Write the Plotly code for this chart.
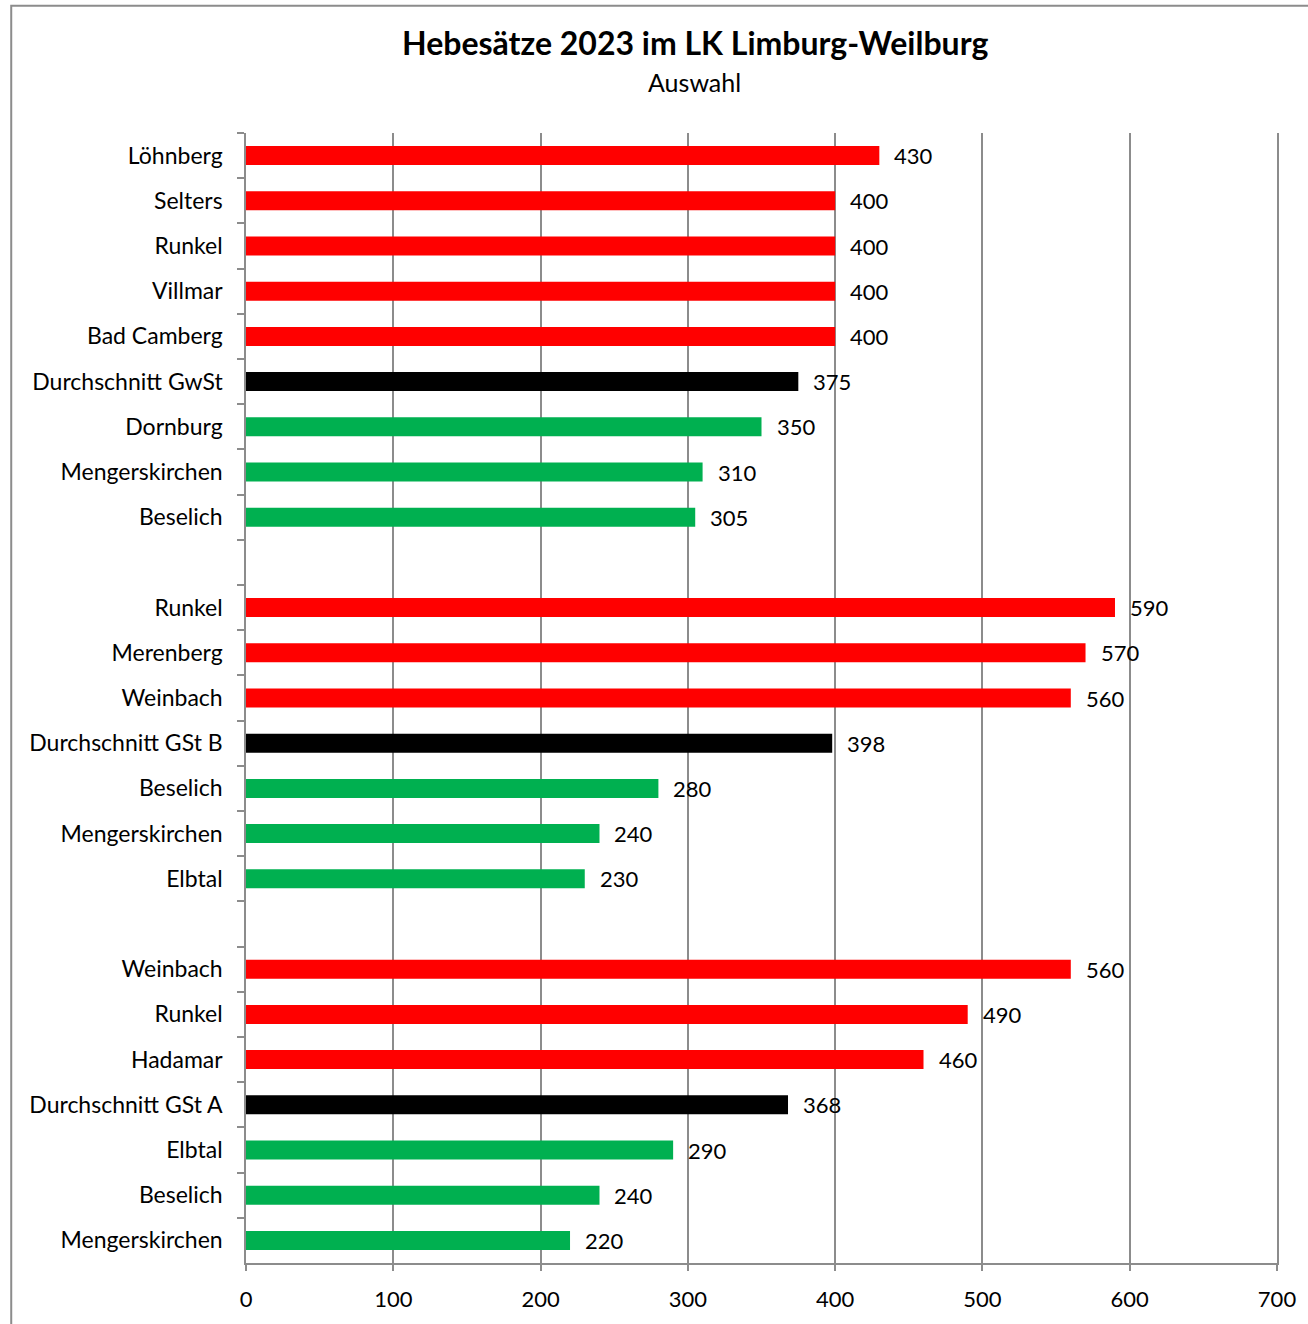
import plotly.graph_objects as go

# ---- data (top to bottom; "" = empty spacer row) ----
labels = ["Löhnberg", "Selters", "Runkel", "Villmar", "Bad Camberg", "Durchschnitt GwSt",
          "Dornburg", "Mengerskirchen", "Beselich", "",
          "Runkel", "Merenberg", "Weinbach", "Durchschnitt GSt B", "Beselich",
          "Mengerskirchen", "Elbtal", "",
          "Weinbach", "Runkel", "Hadamar", "Durchschnitt GSt A", "Elbtal",
          "Beselich", "Mengerskirchen"]
values = [430, 400, 400, 400, 400, 375, 350, 310, 305, None,
          590, 570, 560, 398, 280, 240, 230, None,
          560, 490, 460, 368, 290, 240, 220]
kinds = ["hi", "hi", "hi", "hi", "hi", "avg", "lo", "lo", "lo", None,
         "hi", "hi", "hi", "avg", "lo", "lo", "lo", None,
         "hi", "hi", "hi", "avg", "lo", "lo", "lo"]
x_ticks = [0, 100, 200, 300, 400, 500, 600, 700]

color_map = {"hi": "#FF0000", "avg": "#000000", "lo": "#00B050", None: "rgba(0,0,0,0)"}

# unique category keys (names repeat) using zero-width spaces
keys = [lab + "\u200b" * i for i, lab in enumerate(labels)]
colors = [color_map[k] for k in kinds]

W, H = 1308, 1324
L, R, T, B = 246, 30, 133, 54
FONT = "Lato"

fig = go.Figure()
fig.add_trace(go.Bar(
    x=[v if v is not None else 0 for v in values], y=keys, orientation="h",
    marker=dict(color=colors, line=dict(width=0)), width=0.42,
    hoverinfo="x+y", showlegend=False,
))

for k, v in zip(keys, values):
    if v is None:
        continue
    fig.add_annotation(x=v, y=k, text=str(v), showarrow=False, xanchor="left",
                       yanchor="middle", xshift=13,
                       font=dict(family=FONT, size=22, color="#000000"))

fig.update_layout(
    width=W, height=H,
    margin=dict(l=L, r=R, t=T, b=B, pad=0),
    paper_bgcolor="white", plot_bgcolor="white",
    font=dict(family=FONT, size=22, color="#000000"),
    bargap=0.58,
    xaxis=dict(range=[0, 700], tickvals=x_ticks, showgrid=True, gridcolor="#8C8C8C",
               gridwidth=1.5, showline=True, linecolor="#8C8C8C", linewidth=2,
               ticks="outside", ticklen=6, tickcolor="#8C8C8C", tickwidth=2,
               ticklabelstandoff=10, zeroline=False, fixedrange=True,
               tickfont=dict(family=FONT, size=22)),
    yaxis=dict(type="category", categoryorder="array", categoryarray=keys,
               autorange="reversed", showline=True, mirror=True,
               linecolor="#8C8C8C", linewidth=1.5,
               ticks="outside", tickson="boundaries", ticklen=7, tickcolor="#8C8C8C",
               tickwidth=2, ticklabelstandoff=17, showgrid=False, zeroline=False,
               fixedrange=True, tickfont=dict(family=FONT, size=23)),
)

pw, ph = W - L - R, H - T - B
def px_x(p):
    return (p - L) / pw
def px_y(p):
    return (H - B - p) / ph

fig.add_annotation(xref="paper", yref="paper", x=px_x(695), y=px_y(42),
                   text="<b>Hebesätze 2023 im LK Limburg-Weilburg</b>", showarrow=False,
                   xanchor="center", yanchor="middle",
                   font=dict(family=FONT, size=32, color="#000000"))
fig.add_annotation(xref="paper", yref="paper", x=px_x(695), y=px_y(82),
                   text="Auswahl", showarrow=False, xanchor="center", yanchor="middle",
                   font=dict(family=FONT, size=25, color="#000000"))

# outer chart border (extends past the visible window on right/bottom)
fig.add_shape(type="rect", xref="paper", yref="paper",
              x0=px_x(11), x1=px_x(1340), y0=px_y(1360), y1=px_y(5),
              line=dict(color="#8C8C8C", width=2), fillcolor="rgba(0,0,0,0)",
              layer="below")

fig.write_html("out.html", config={"displayModeBar": False},
               post_script="document.body.style.margin='0px';document.body.style.overflow='hidden';")
